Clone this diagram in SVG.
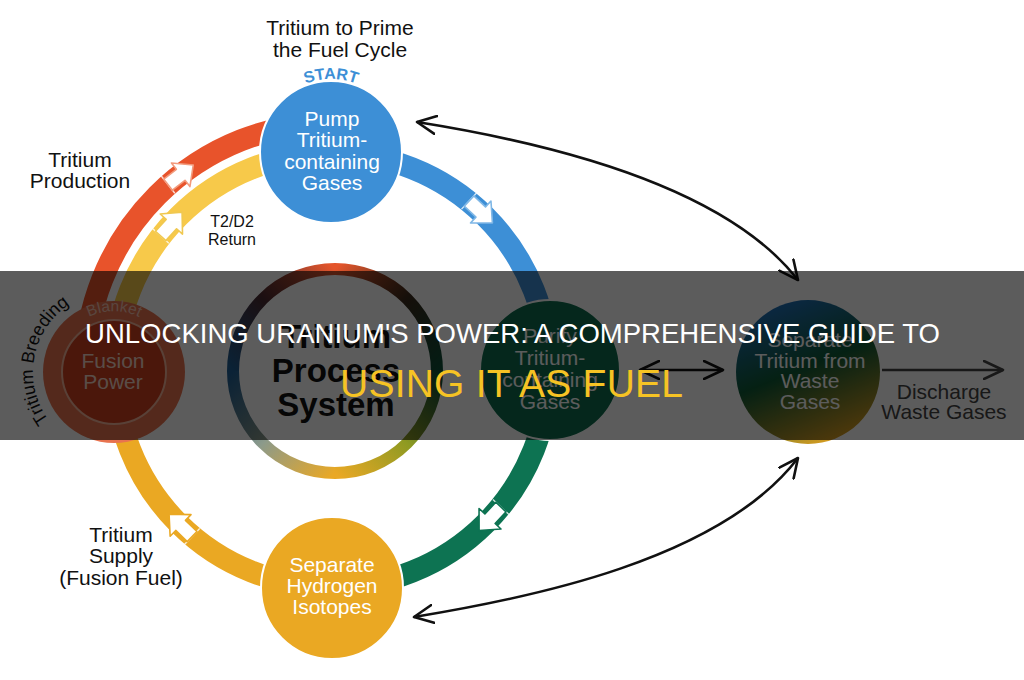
<svg xmlns="http://www.w3.org/2000/svg" width="1024" height="680" viewBox="0 0 1024 680">
<style>
text{font-family:"Liberation Sans",Arial,sans-serif}
.lbl{font-size:21px;fill:#111;text-anchor:middle}
.sm{font-size:16px;fill:#111;text-anchor:middle}
.nt{font-size:21px;fill:#fff;text-anchor:middle}
.arc{fill:none;stroke-width:22}
.ba{fill:#fff;stroke-width:1.6;stroke-linejoin:round}
.tick{stroke:#fff;stroke-width:1.4;opacity:.8}
.blk{fill:none;stroke:#111;stroke-width:2.6}
.gry{fill:none;stroke:#444;stroke-width:2.6}
.big{font-size:33px;font-weight:bold;fill:#111;text-anchor:middle}
</style>
<defs>
<marker id="ah" viewBox="0 0 22 20" refX="20" refY="10" markerWidth="22" markerHeight="20" markerUnits="userSpaceOnUse" orient="auto-start-reverse"><path d="M1,1 L20,10 L1,19" fill="none" stroke="#111" stroke-width="2.6" stroke-linecap="round" stroke-linejoin="round"/></marker>
<marker id="ahg" viewBox="0 0 22 20" refX="20" refY="10" markerWidth="22" markerHeight="20" markerUnits="userSpaceOnUse" orient="auto-start-reverse"><path d="M1,1 L20,10 L1,19" fill="none" stroke="#444" stroke-width="2.6" stroke-linecap="round" stroke-linejoin="round"/></marker>
<polygon id="barr" points="-15,-7 1,-7 1,-15 17,0 1,15 1,7 -15,7"/>
<linearGradient id="q1" gradientUnits="userSpaceOnUse" x1="335" y1="269" x2="437" y2="371"><stop offset="0" stop-color="#e4552b"/><stop offset=".5" stop-color="#3a2a1c"/><stop offset="1" stop-color="#0d4f38"/></linearGradient>
<linearGradient id="q2" gradientUnits="userSpaceOnUse" x1="437" y1="371" x2="335" y2="473"><stop offset="0" stop-color="#0d4f38"/><stop offset=".5" stop-color="#8e9a22"/><stop offset="1" stop-color="#e9a825"/></linearGradient>
<linearGradient id="q3" gradientUnits="userSpaceOnUse" x1="335" y1="473" x2="233" y2="371"><stop offset="0" stop-color="#e9a825"/><stop offset=".5" stop-color="#8c9a8a"/><stop offset="1" stop-color="#1f5f95"/></linearGradient>
<linearGradient id="q4" gradientUnits="userSpaceOnUse" x1="233" y1="371" x2="335" y2="269"><stop offset="0" stop-color="#1f5f95"/><stop offset=".5" stop-color="#4a2a30"/><stop offset="1" stop-color="#e4552b"/></linearGradient>
<linearGradient id="sep" x1="0.35" y1="0" x2="0.75" y2="1"><stop offset="0" stop-color="#1f6fb8"/><stop offset=".45" stop-color="#0f5a36"/><stop offset="1" stop-color="#e8a21e"/></linearGradient>
<path id="pStart" d="M294.5,88.8 A73,73 0 0 1 367.5,88.8"/>
<path id="pBlanket" d="M66.5,336.7 A57,57 0 0 1 161.5,336.7"/>
<path id="pBreed" d="M51.95,424.07 A81,81 0 0 1 86.3,295.9"/>
</defs>
<rect width="1024" height="680" fill="#fff"/>

<g id="connectors">
<path class="arc" stroke="#3d8fd6" d="M332,153 A217,217 0 0 1 549,370"/>
<path class="arc" stroke="#0d7352" d="M549,370 A217,217 0 0 1 332,587"/>
<path class="arc" stroke="#eaa823" d="M332,587 A217,217 0 0 1 115,370"/>
<path class="arc" stroke="#f7c94a" d="M115,370 A217,217 0 0 1 332,153"/>
<path class="arc" stroke="#e8532b" d="M85,370 A247,247 0 0 1 332,123"/>
<g transform="translate(179.9,175.4) rotate(322)"><line class="tick" x1="-15" y1="-11" x2="-15" y2="11"/><use href="#barr" class="ba" stroke="#f29a7c"/></g>
<g transform="translate(170.7,224.8) rotate(312)"><line class="tick" x1="-15" y1="-11" x2="-15" y2="11"/><use href="#barr" class="ba" stroke="#f0c850"/></g>
<g transform="translate(480,211.3) rotate(43)"><line class="tick" x1="-15" y1="-11" x2="-15" y2="11"/><use href="#barr" class="ba" stroke="#7fb7e6"/></g>
<g transform="translate(490.7,518) rotate(133)"><line class="tick" x1="-15" y1="-11" x2="-15" y2="11"/><use href="#barr" class="ba" stroke="#0d7352"/></g>
<g transform="translate(181.3,526.1) rotate(224)"><line class="tick" x1="-15" y1="-11" x2="-15" y2="11"/><use href="#barr" class="ba" stroke="#eaa823"/></g>
<path class="blk" d="M417,122 C530,140 720,180 798,280" marker-start="url(#ah)" marker-end="url(#ah)"/>
<path class="blk" d="M414,617 C530,598 720,560 798,458" marker-start="url(#ah)" marker-end="url(#ah)"/>
<path class="blk" d="M640,370 L723,370" marker-start="url(#ah)" marker-end="url(#ah)"/>
<path class="gry" d="M882,370 L1003,370" marker-end="url(#ahg)"/>
</g>

<g id="center-system">
<path fill="none" stroke-width="12" stroke="url(#q1)" d="M335,269 A102,102 0 0 1 437,371"/>
<path fill="none" stroke-width="12" stroke="url(#q2)" d="M437,371 A102,102 0 0 1 335,473"/>
<path fill="none" stroke-width="12" stroke="url(#q3)" d="M335,473 A102,102 0 0 1 233,371"/>
<path fill="none" stroke-width="12" stroke="url(#q4)" d="M233,371 A102,102 0 0 1 335,269"/>
<text class="big" x="336" y="348">Tritium</text>
<text class="big" x="336" y="382">Process</text>
<text class="big" x="336" y="416">System</text>
</g>

<g id="node-pump">
<circle cx="331" cy="152" r="71" fill="#3d8fd6" stroke="#fff" stroke-width="2"/>
<text class="nt" x="332" y="126">Pump</text>
<text class="nt" x="332" y="147">Tritium-</text>
<text class="nt" x="332" y="169">containing</text>
<text class="nt" x="332" y="190">Gases</text>
<text font-size="16" font-weight="bold" fill="#3d8fd6" text-anchor="middle"><textPath href="#pStart" startOffset="50%">START</textPath></text>
</g>

<g id="node-purify">
<circle cx="550" cy="370" r="70" fill="#0f6e4e" stroke="#fff" stroke-width="2"/>
<text class="nt" x="550" y="343">Purify</text>
<text class="nt" x="550" y="365">Tritium-</text>
<text class="nt" x="550" y="387">containing</text>
<text class="nt" x="550" y="409">Gases</text>
</g>

<g id="node-hydrogen">
<circle cx="332" cy="588" r="71" fill="#eaa823" stroke="#fff" stroke-width="2"/>
<text class="nt" x="332" y="572">Separate</text>
<text class="nt" x="332" y="593">Hydrogen</text>
<text class="nt" x="332" y="614">Isotopes</text>
</g>

<g id="node-fusion">
<circle cx="114" cy="372" r="71" fill="#e8734f"/>
<circle cx="114" cy="372" r="52" fill="#d0421f" stroke="#f5b39a" stroke-width="2"/>
<text font-size="15.5" fill="#f7c2b0" text-anchor="middle"><textPath href="#pBlanket" startOffset="50%">Blanket</textPath></text>
<text class="nt" x="113" y="368" style="fill:#f7d6c8">Fusion</text>
<text class="nt" x="113" y="389" style="fill:#f7d6c8">Power</text>
<text font-size="18" fill="#111"><textPath href="#pBreed" startOffset="5">Tritium Breeding</textPath></text>
</g>

<g id="node-separate-tritium">
<circle cx="808" cy="372" r="72" fill="url(#sep)"/>
<text class="nt" x="810" y="347">Separate</text>
<text class="nt" x="810" y="368">Tritium from</text>
<text class="nt" x="810" y="388">Waste</text>
<text class="nt" x="810" y="409">Gases</text>
</g>

<g id="labels">
<text class="lbl" x="340" y="35">Tritium to Prime</text>
<text class="lbl" x="340" y="57">the Fuel Cycle</text>
<text class="lbl" x="80" y="167">Tritium</text>
<text class="lbl" x="80" y="188">Production</text>
<text class="sm" x="232" y="227">T2/D2</text>
<text class="sm" x="232" y="245">Return</text>
<text class="lbl" x="121" y="542">Tritium</text>
<text class="lbl" x="121" y="563">Supply</text>
<text class="lbl" x="121" y="585">(Fusion Fuel)</text>
<text class="lbl" x="944" y="399" style="fill:#444">Discharge</text>
<text class="lbl" x="944" y="419" style="fill:#444">Waste Gases</text>
</g>

<rect id="overlay" x="0" y="271" width="1024" height="169" fill="#000" opacity="0.64"/>
<g id="title">
<text x="85" y="343" font-size="27.5" fill="#fff" textLength="855" lengthAdjust="spacing">UNLOCKING URANIUM'S POWER: A COMPREHENSIVE GUIDE TO</text>
<text x="340" y="397" font-size="39" fill="#f6c324" textLength="343" lengthAdjust="spacing">USING IT AS FUEL</text>
</g>
</svg>
